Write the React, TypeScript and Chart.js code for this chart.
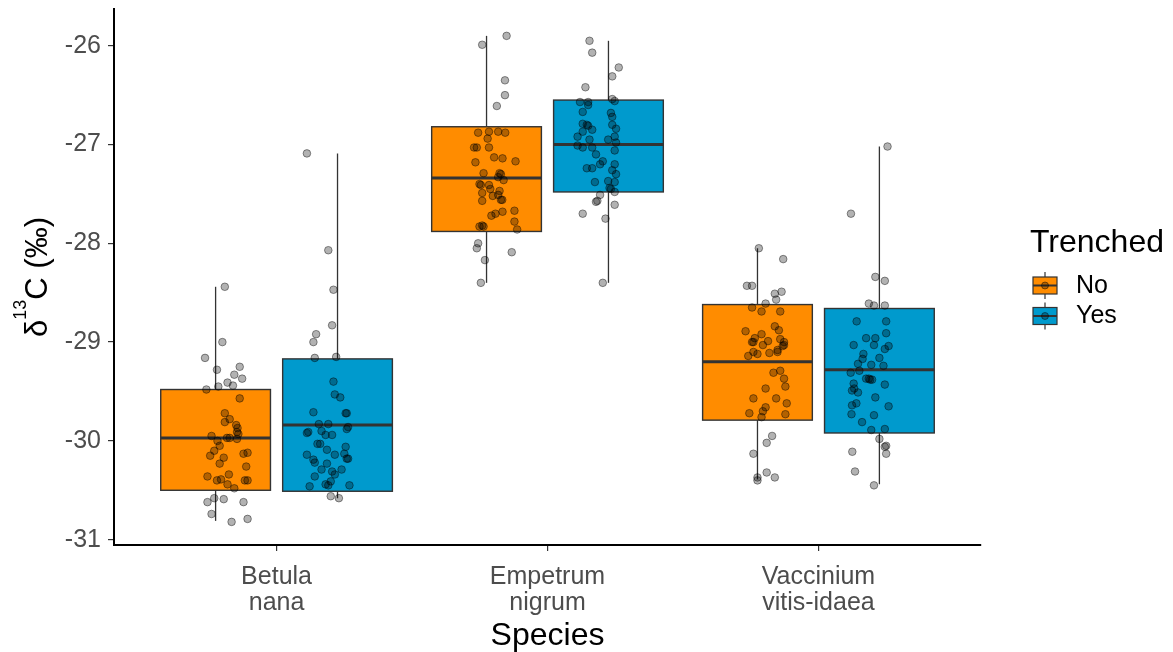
import React, { useEffect, useRef } from "react";
import { Chart, registerables } from "chart.js";

Chart.register(...registerables);

const FONT = "'Liberation Sans', Arial, sans-serif";

// Categories and levels
const speciesLabels = [["Betula", "nana"], ["Empetrum", "nigrum"], ["Vaccinium", "vitis-idaea"]];
const trenchedLevels = ["No", "Yes"];
const yTickValues = [-31, -30, -29, -28, -27, -26];

// Box statistics (per species: Betula, Empetrum, Vaccinium)
const noLower = [-30.81, -28.4, -30.39];
const noQ1 = [-30.5, -27.88, -29.79];
const noMedian = [-29.97, -27.34, -29.2];
const noQ3 = [-29.48, -26.82, -28.62];
const noUpper = [-28.44, -25.9, -28.05];

const yesLower = [-30.58, -28.4, -30.44];
const yesQ1 = [-30.51, -27.48, -29.92];
const yesMedian = [-29.84, -27.0, -29.28];
const yesQ3 = [-29.17, -26.55, -28.66];
const yesUpper = [-27.09, -25.95, -27.02];

// Raw observations (jittered points) and their horizontal jitter (category units)
const betulaNoValues = [-28.44, -29.0, -29.16, -29.28, -29.25, -29.33, -29.37, -29.41, -29.44, -29.45, -29.48, -29.57, -29.72, -29.78, -29.81, -29.84, -29.87, -29.91, -29.93, -29.95, -29.97, -29.97, -30.0, -29.98, -30.05, -30.1, -30.15, -30.17, -30.13, -30.12, -30.23, -30.26, -30.36, -30.34, -30.39, -30.4, -30.4, -30.4, -30.44, -30.48, -30.62, -30.58, -30.59, -30.62, -30.74, -30.82, -30.79];
const betulaNoJitter = [0.034, 0.025, -0.039, 0.005, 0.089, 0.069, 0.098, 0.044, 0.064, 0.01, -0.034, 0.089, 0.034, 0.052, 0.034, 0.076, 0.081, 0.079, 0.084, -0.015, 0.042, 0.052, 0.007, 0.079, 0.015, -0.005, -0.02, 0.03, 0.103, 0.118, 0.015, 0.113, -0.03, 0.049, 0.02, 0.005, 0.108, 0.118, 0.044, 0.069, -0.03, -0.005, 0.03, 0.103, -0.015, 0.059, 0.118];

const betulaYesValues = [-27.09, -28.07, -28.47, -28.83, -28.92, -29.0, -29.16, -29.15, -29.4, -29.53, -29.56, -29.71, -29.72, -29.72, -29.83, -29.83, -29.86, -29.88, -29.92, -29.91, -29.9, -29.94, -29.94, -30.03, -30.03, -30.09, -30.06, -30.14, -30.14, -30.13, -30.18, -30.18, -30.19, -30.22, -30.23, -30.29, -30.29, -30.31, -30.34, -30.36, -30.41, -30.44, -30.45, -30.46, -30.45, -30.56, -30.58];
const betulaYesJitter = [-0.113, -0.034, -0.015, -0.02, -0.079, -0.089, -0.084, -0.005, -0.015, -0.01, 0.01, -0.089, 0.03, 0.034, -0.069, -0.034, 0.039, 0.034, -0.113, -0.108, -0.059, -0.044, -0.02, -0.074, -0.064, -0.039, 0.03, -0.113, -0.01, 0.025, 0.034, 0.039, -0.089, -0.084, -0.039, -0.059, 0.015, -0.02, -0.01, -0.084, -0.025, -0.044, -0.034, -0.103, 0.044, -0.025, 0.005];

const empetrumNoValues = [-25.9, -25.99, -26.35, -26.5, -26.61, -26.88, -26.87, -26.87, -26.88, -26.94, -27.03, -27.03, -27.03, -27.13, -27.14, -27.18, -27.17, -27.29, -27.29, -27.3, -27.33, -27.36, -27.4, -27.41, -27.41, -27.45, -27.47, -27.49, -27.52, -27.51, -27.56, -27.56, -27.57, -27.67, -27.68, -27.7, -27.72, -27.78, -27.83, -27.82, -27.83, -27.86, -28.0, -28.05, -28.09, -28.17, -28.4];
const empetrumNoJitter = [0.074, -0.016, 0.068, 0.068, 0.038, -0.031, 0.009, 0.043, 0.069, 0.004, -0.046, -0.036, 0.009, 0.028, 0.059, -0.041, 0.107, -0.011, 0.048, 0.053, 0.043, 0.063, -0.026, -0.021, 0.009, 0.014, 0.048, -0.016, 0.023, 0.043, 0.053, 0.058, -0.016, 0.103, 0.059, 0.033, 0.018, 0.103, -0.026, -0.016, -0.011, 0.113, -0.031, -0.036, 0.093, -0.006, -0.021];

const empetrumYesValues = [-25.95, -26.07, -26.22, -26.31, -26.42, -26.57, -26.57, -26.6, -26.54, -26.56, -26.67, -26.68, -26.72, -26.79, -26.8, -26.81, -26.85, -26.8, -26.87, -26.84, -26.92, -26.92, -26.95, -26.95, -26.98, -27.01, -27.03, -27.03, -27.06, -27.1, -27.17, -27.2, -27.2, -27.24, -27.24, -27.26, -27.3, -27.38, -27.37, -27.38, -27.44, -27.45, -27.48, -27.51, -27.57, -27.58, -27.61, -27.7, -27.75, -28.4];
const empetrumYesJitter = [-0.07, -0.06, 0.038, 0.014, -0.085, -0.105, -0.075, -0.075, 0.014, 0.023, -0.095, 0.009, 0.014, -0.095, -0.08, -0.075, -0.06, 0.014, -0.095, 0.028, -0.114, 0.023, -0.07, -0.001, 0.028, -0.114, -0.095, -0.06, 0.023, -0.046, -0.021, -0.031, 0.023, -0.08, -0.06, 0.014, 0.028, -0.05, -0.001, 0.023, 0.004, 0.009, 0.023, -0.031, -0.041, -0.046, 0.023, -0.095, -0.011, -0.021];

const vacciniumNoValues = [-28.05, -28.16, -28.43, -28.43, -28.51, -28.49, -28.57, -28.61, -28.65, -28.69, -28.69, -28.89, -28.84, -28.88, -28.92, -28.96, -29.0, -29.0, -28.99, -28.97, -29.0, -29.03, -29.04, -29.03, -29.08, -29.1, -29.12, -29.11, -29.1, -29.14, -29.29, -29.31, -29.37, -29.47, -29.45, -29.57, -29.57, -29.66, -29.7, -29.62, -29.72, -29.73, -29.76, -29.95, -30.02, -30.13, -30.32, -30.37, -30.4, -30.37];
const vacciniumNoJitter = [0.005, 0.095, -0.039, -0.02, 0.064, 0.089, 0.069, 0.03, -0.02, 0.015, 0.084, -0.044, 0.064, 0.079, 0.015, -0.01, -0.02, -0.015, 0.039, 0.084, 0.098, 0.02, 0.093, 0.098, 0.074, -0.015, 0.0, 0.044, 0.074, -0.034, 0.084, 0.059, 0.098, 0.03, 0.103, -0.015, 0.069, 0.03, 0.02, 0.108, -0.03, 0.103, 0.015, 0.054, 0.034, -0.015, 0.034, 0.0, 0.0, 0.064];

const vacciniumYesValues = [-27.02, -27.7, -28.34, -28.38, -28.61, -28.63, -28.63, -28.79, -28.79, -28.96, -28.96, -28.91, -29.03, -29.03, -29.04, -29.07, -29.12, -29.17, -29.16, -29.22, -29.23, -29.24, -29.29, -29.31, -29.37, -29.37, -29.38, -29.38, -29.43, -29.42, -29.49, -29.47, -29.51, -29.56, -29.62, -29.64, -29.65, -29.73, -29.74, -29.81, -29.89, -29.88, -29.98, -30.05, -30.06, -30.13, -30.11, -30.31, -30.45];
const vacciniumYesJitter = [0.03, -0.105, -0.015, 0.02, -0.039, -0.02, 0.02, -0.084, 0.025, -0.049, -0.015, 0.025, -0.095, -0.02, 0.034, 0.02, -0.059, -0.062, 0.0, -0.079, -0.03, 0.015, -0.074, -0.106, -0.049, -0.039, -0.034, -0.027, 0.02, -0.095, -0.101, -0.093, -0.079, -0.015, -0.085, -0.101, 0.034, -0.103, -0.02, -0.064, -0.03, 0.02, 0.0, 0.025, 0.02, 0.025, -0.1, -0.09, -0.02];

// Styles
const fillColors = ["#FF8C00", "#009ACD"];
const lineColor = "#333333";
const dodge = [-0.225, 0.225];
const boxWidth = 0.405;

const groups = [
  { s: 0, t: 0, v: betulaNoValues, j: betulaNoJitter },
  { s: 0, t: 1, v: betulaYesValues, j: betulaYesJitter },
  { s: 1, t: 0, v: empetrumNoValues, j: empetrumNoJitter },
  { s: 1, t: 1, v: empetrumYesValues, j: empetrumYesJitter },
  { s: 2, t: 0, v: vacciniumNoValues, j: vacciniumNoJitter },
  { s: 2, t: 1, v: vacciniumYesValues, j: vacciniumYesJitter },
];

const boxStats = [
  { lower: noLower, q1: noQ1, median: noMedian, q3: noQ3, upper: noUpper },
  { lower: yesLower, q1: yesQ1, median: yesMedian, q3: yesQ3, upper: yesUpper },
];

const boxPlugin = {
  id: "boxes",
  beforeDatasetsDraw(chart: any) {
    const { ctx } = chart;
    const xs = chart.scales.x;
    const ys = chart.scales.y;
    const half = (xs.getPixelForValue(boxWidth) - xs.getPixelForValue(0)) / 2;
    ctx.save();
    for (let s = 0; s < speciesLabels.length; s++) {
      for (let t = 0; t < trenchedLevels.length; t++) {
        const st = boxStats[t];
        const cx = xs.getPixelForValue(s + 1 + dodge[t]);
        const yLo = ys.getPixelForValue(st.lower[s]);
        const yQ1 = ys.getPixelForValue(st.q1[s]);
        const yMed = ys.getPixelForValue(st.median[s]);
        const yQ3 = ys.getPixelForValue(st.q3[s]);
        const yHi = ys.getPixelForValue(st.upper[s]);
        ctx.strokeStyle = lineColor;
        ctx.lineWidth = 1.3;
        ctx.beginPath();
        ctx.moveTo(cx, yHi);
        ctx.lineTo(cx, yLo);
        ctx.stroke();
        ctx.fillStyle = fillColors[t];
        ctx.fillRect(cx - half, yQ3, 2 * half, yQ1 - yQ3);
        ctx.lineWidth = 1.4;
        ctx.strokeRect(cx - half, yQ3, 2 * half, yQ1 - yQ3);
        ctx.lineWidth = 3;
        ctx.beginPath();
        ctx.moveTo(cx - half, yMed);
        ctx.lineTo(cx + half, yMed);
        ctx.stroke();
      }
    }
    ctx.restore();
  },
};

const annotationPlugin = {
  id: "annotations",
  afterDraw(chart: any) {
    const { ctx, chartArea } = chart;
    ctx.save();
    // y-axis title: δ13C (‰)
    const mainFont = `31px ${FONT}`;
    const supFont = `18px ${FONT}`;
    ctx.font = mainFont;
    const wD = ctx.measureText("\u03B4").width;
    const wRest = ctx.measureText("C (\u2030)").width;
    ctx.font = supFont;
    const wSup = ctx.measureText("13").width;
    const total = wD + wSup + wRest;
    const cy = (chartArea.top + chartArea.bottom) / 2;
    ctx.translate(47, cy);
    ctx.rotate(-Math.PI / 2);
    ctx.fillStyle = "#000000";
    ctx.textBaseline = "alphabetic";
    ctx.textAlign = "left";
    let x0 = -total / 2;
    ctx.font = mainFont;
    ctx.fillText("\u03B4", x0, 0);
    x0 += wD;
    ctx.font = supFont;
    ctx.fillText("13", x0, -21);
    x0 += wSup;
    ctx.font = mainFont;
    ctx.fillText("C (\u2030)", x0, 0);
    ctx.restore();

    ctx.save();
    // x-axis title
    ctx.font = `32px ${FONT}`;
    ctx.fillStyle = "#000000";
    ctx.textAlign = "center";
    ctx.textBaseline = "alphabetic";
    ctx.fillText("Species", (chartArea.left + chartArea.right) / 2, 645);

    // legend
    const lx = chartArea.right + 49;
    ctx.textAlign = "left";
    ctx.fillText("Trenched", lx, 252);
    ctx.font = `25px ${FONT}`;
    for (let t = 0; t < trenchedLevels.length; t++) {
      const keyTop = 272 + t * 30.5;
      const kcx = lx + 15;
      ctx.strokeStyle = lineColor;
      ctx.lineWidth = 1.2;
      ctx.beginPath();
      ctx.moveTo(kcx, keyTop);
      ctx.lineTo(kcx, keyTop + 27);
      ctx.stroke();
      ctx.fillStyle = fillColors[t];
      ctx.fillRect(kcx - 12, keyTop + 5, 24, 17);
      ctx.lineWidth = 1.2;
      ctx.strokeRect(kcx - 12, keyTop + 5, 24, 17);
      ctx.lineWidth = 2;
      ctx.beginPath();
      ctx.moveTo(kcx - 12, keyTop + 13.5);
      ctx.lineTo(kcx + 12, keyTop + 13.5);
      ctx.stroke();
      ctx.fillStyle = "rgba(0,0,0,0.3)";
      ctx.strokeStyle = "rgba(0,0,0,0.45)";
      ctx.lineWidth = 1;
      ctx.beginPath();
      ctx.arc(kcx, keyTop + 13.5, 3.5, 0, Math.PI * 2);
      ctx.fill();
      ctx.stroke();
      ctx.fillStyle = "#000000";
      ctx.textBaseline = "middle";
      ctx.fillText(trenchedLevels[t], lx + 46, keyTop + 14);
    }
    ctx.restore();
  },
};

export default function App() {
  const canvasRef = useRef<HTMLCanvasElement | null>(null);

  useEffect(() => {
    document.body.style.margin = "0";
    const canvas = canvasRef.current;
    if (!canvas) return;

    const datasets = groups.map((g) => ({
      type: "scatter" as const,
      label: `${speciesLabels[g.s].join(" ")} ${trenchedLevels[g.t]}`,
      data: g.v.map((v, k) => ({ x: g.s + 1 + dodge[g.t] + g.j[k], y: v })),
      pointRadius: 3.8,
      pointHoverRadius: 3.8,
      backgroundColor: "rgba(0,0,0,0.3)",
      borderColor: "rgba(0,0,0,0.42)",
      borderWidth: 1,
      showLine: false,
      clip: false as any,
    }));

    const chart = new Chart(canvas, {
      type: "scatter",
      data: { datasets },
      options: {
        animation: false,
        responsive: true,
        maintainAspectRatio: false,
        layout: { padding: { top: 9, right: 192, left: 0, bottom: 0 } },
        plugins: { legend: { display: false }, tooltip: { enabled: false } },
        scales: {
          x: {
            type: "linear",
            min: 0.4,
            max: 3.6,
            afterBuildTicks: (s: any) => {
              s.ticks = speciesLabels.map((_, i) => ({ value: i + 1 }));
            },
            afterFit: (s: any) => {
              s.height = 107;
              s.paddingLeft = 0;
              s.paddingRight = 0;
            },
            grid: { display: true, drawOnChartArea: false, drawTicks: true, tickLength: 6, color: lineColor, lineWidth: 1.2 },
            border: { display: true, color: "#000000", width: 2 },
            ticks: {
              autoSkip: false,
              maxRotation: 0,
              padding: 13,
              color: "#4D4D4D",
              font: { family: FONT, size: 25, lineHeight: 1.04 },
              callback: (value: any) => speciesLabels[Math.round(Number(value)) - 1] as any,
            },
          },
          y: {
            type: "linear",
            min: -31.054,
            max: -25.628,
            afterBuildTicks: (s: any) => {
              s.ticks = yTickValues.map((v) => ({ value: v }));
            },
            afterFit: (s: any) => {
              s.width = 114;
              s.paddingTop = 0;
              s.paddingBottom = 0;
            },
            grid: { display: true, drawOnChartArea: false, drawTicks: true, tickLength: 6, color: lineColor, lineWidth: 1.2 },
            border: { display: true, color: "#000000", width: 2 },
            ticks: {
              padding: 7,
              color: "#4D4D4D",
              font: { family: FONT, size: 25 },
              callback: (value: any) => String(value),
            },
          },
        },
      },
      plugins: [boxPlugin, annotationPlugin],
    });

    return () => chart.destroy();
  }, []);

  return (
    <div style={{ position: "fixed", left: 0, top: 0, width: 1173, height: 652, background: "#ffffff" }}>
      <canvas ref={canvasRef} />
    </div>
  );
}
